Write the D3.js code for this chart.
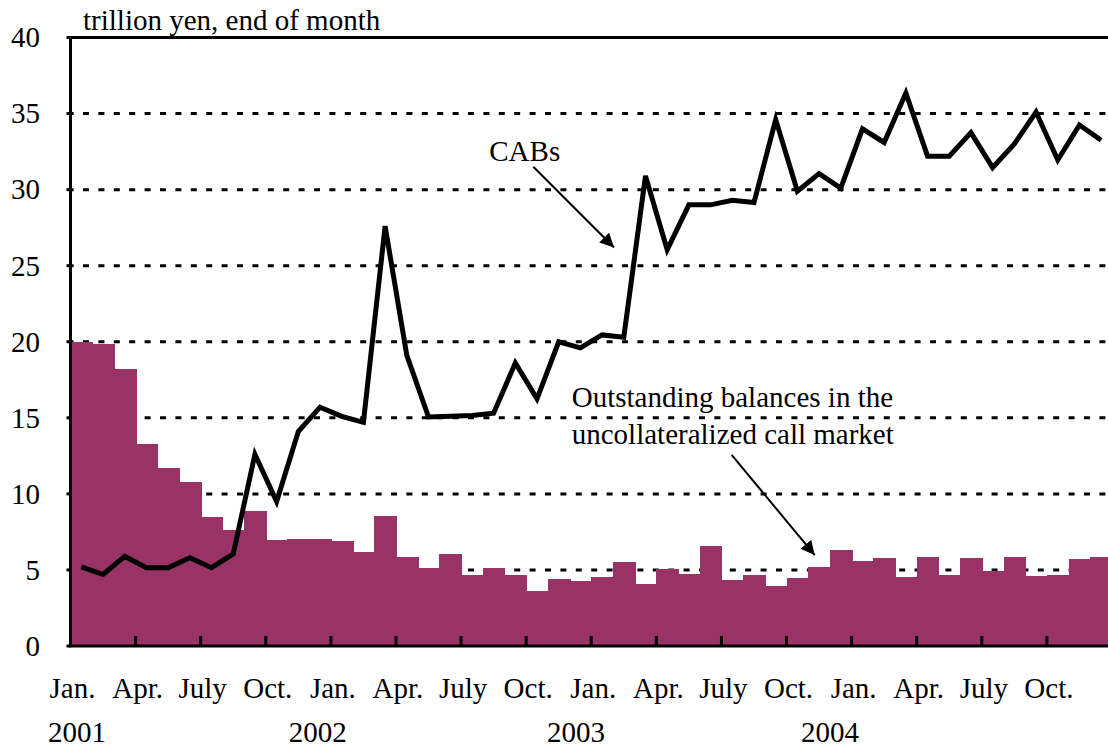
<!DOCTYPE html>
<html lang="en">
<head>
<meta charset="UTF-8">
<title>CABs and call market balances</title>
<script src="https://d3js.org/d3.v7.min.js"></script>
<style>
  body { margin: 0; background: white; }
  svg { display: block; font-family: "Liberation Serif", "Times New Roman", serif; }
</style>
</head>
<body>
<div id="chart"></div>
<script>
// monthly data, Jan. 2001 - Dec. 2004
const months = d3.range(48);

// outstanding balances in the uncollateralized call market (bars)
const callBalances = [
  20.0, 19.85, 18.2, 13.3, 11.7, 10.8, 8.5, 7.6, 8.9, 7.0, 7.05, 7.05,
  6.9, 6.2, 8.55, 5.85, 5.1, 6.05, 4.65, 5.1, 4.65, 3.6, 4.4, 4.3,
  4.55, 5.5, 4.1, 5.05, 4.75, 6.6, 4.35, 4.65, 3.95, 4.45, 5.2, 6.3,
  5.6, 5.8, 4.55, 5.85, 4.65, 5.8, 4.95, 5.85, 4.6, 4.65, 5.7, 5.85
];

// current account balances (line)
const cabs = [
  5.2, 4.7, 5.9, 5.15, 5.15, 5.8, 5.15, 6.05, 12.6, 9.5, 14.1, 15.7,
  15.1, 14.7, 27.6, 19.1, 15.05, 15.1, 15.15, 15.3, 18.6, 16.25, 20.0, 19.6,
  20.45, 20.3, 30.9, 26.05, 29.0, 29.0, 29.3, 29.15, 34.6, 29.9, 31.05, 30.1,
  34.0, 33.1, 36.35, 32.2, 32.2, 33.75, 31.45, 33.0, 35.1, 31.95, 34.25, 33.25
];

const monthLabels = ["Jan.", "Apr.", "July", "Oct."];
const yearLabels = ["2001", "2002", "2003", "2004"];
const yTicks = [0, 5, 10, 15, 20, 25, 30, 35, 40];

const W = 1108, H = 749;
const m = { left: 70.5, right: 1112, top: 37.5, bottom: 646 };

const svg = d3.select("#chart").append("svg")
  .attr("width", W)
  .attr("height", H);

const x = d3.scaleBand().domain(months).range([m.left, m.right]).padding(0);
const xm = d3.scaleLinear().domain([0, 48]).range([m.left, m.right]); // month position
const y = d3.scaleLinear().domain([0, 40]).range([m.bottom, m.top]);

// gridlines
svg.append("g")
  .selectAll("line")
  .data(yTicks.filter(d => d > 0 && d < 40))
  .join("line")
  .attr("x1", m.left)
  .attr("x2", m.right)
  .attr("y1", d => y(d))
  .attr("y2", d => y(d))
  .attr("stroke", "#000")
  .attr("stroke-width", 3)
  .attr("stroke-dasharray", "6,9.4")
  .attr("stroke-dashoffset", 2.9);

// bars
svg.append("g")
  .attr("shape-rendering", "crispEdges")
  .selectAll("rect")
  .data(callBalances)
  .join("rect")
  .attr("x", (d, i) => x(i))
  .attr("width", x.bandwidth() + 1)
  .attr("y", d => y(d))
  .attr("height", d => y(0) - y(d))
  .attr("fill", "#993366");

// CABs line
const line = d3.line()
  .x((d, i) => x(i) + x.bandwidth() / 2)
  .y(d => y(d));

svg.append("path")
  .datum(cabs)
  .attr("fill", "none")
  .attr("stroke", "#000")
  .attr("stroke-width", 5)
  .attr("stroke-linejoin", "miter")
  .attr("d", line);

// plot frame
svg.append("rect")
  .attr("x", m.left)
  .attr("y", m.top)
  .attr("width", m.right - m.left)
  .attr("height", m.bottom - m.top)
  .attr("fill", "none")
  .attr("stroke", "#000")
  .attr("stroke-width", 3);

// y axis ticks and labels
svg.append("g")
  .selectAll("line")
  .data(yTicks)
  .join("line")
  .attr("x1", m.left - 4)
  .attr("x2", m.left)
  .attr("y1", d => y(d))
  .attr("y2", d => y(d))
  .attr("stroke", "#000")
  .attr("stroke-width", 3);

svg.append("g")
  .selectAll("text")
  .data(yTicks)
  .join("text")
  .attr("x", 40)
  .attr("y", d => y(d))
  .attr("dy", "0.34em")
  .attr("text-anchor", "end")
  .attr("font-size", 29)
  .text(d => d);

// quarterly ticks, pointing into the plot
svg.append("g")
  .selectAll("line")
  .data(d3.range(3, 48, 3))
  .join("line")
  .attr("x1", d => xm(d))
  .attr("x2", d => xm(d))
  .attr("y1", m.bottom)
  .attr("y2", m.bottom - 10)
  .attr("stroke", "#000")
  .attr("stroke-width", 3);

// month labels
svg.append("g")
  .selectAll("text")
  .data(d3.range(0, 48, 3))
  .join("text")
  .attr("x", d => xm(d) + 2)
  .attr("y", 698)
  .attr("text-anchor", "middle")
  .attr("font-size", 29)
  .text(d => monthLabels[(d / 3) % 4]);

// year labels
const yearAt = [0.3, 11.4, 23.3, 35.0];
svg.append("g")
  .selectAll("text")
  .data(yearLabels)
  .join("text")
  .attr("x", (d, i) => xm(yearAt[i]))
  .attr("y", 742)
  .attr("text-anchor", "middle")
  .attr("font-size", 29)
  .text(d => d);

// unit label
svg.append("text")
  .attr("x", 83)
  .attr("y", 30)
  .attr("font-size", 29)
  .text("trillion yen, end of month");

// annotations
svg.append("defs").append("marker")
  .attr("id", "head")
  .attr("viewBox", "0 0 10 10")
  .attr("refX", 10)
  .attr("refY", 5)
  .attr("markerWidth", 7)
  .attr("markerHeight", 7)
  .attr("markerUnits", "strokeWidth")
  .attr("orient", "auto")
  .append("path")
  .attr("d", "M0,0 L10,5 L0,10 z")
  .attr("fill", "#000");

function arrow(m1, v1, m2, v2) {
  svg.append("line")
    .attr("x1", xm(m1)).attr("y1", y(v1))
    .attr("x2", xm(m2)).attr("y2", y(v2))
    .attr("stroke", "#000")
    .attr("stroke-width", 2)
    .attr("marker-end", "url(#head)");
}

svg.append("text")
  .attr("x", xm(19.3))
  .attr("y", y(31.9))
  .attr("font-size", 29)
  .text("CABs");
arrow(21.33, 31.5, 25.05, 26.2);

svg.append("text")
  .attr("x", xm(23.1))
  .attr("y", y(15.71))
  .attr("font-size", 29)
  .text("Outstanding balances in the");
svg.append("text")
  .attr("x", xm(23.1))
  .attr("y", y(13.28))
  .attr("font-size", 29)
  .text("uncollateralized call market");
arrow(30.47, 12.56, 34.3, 5.98);
</script>
</body>
</html>
